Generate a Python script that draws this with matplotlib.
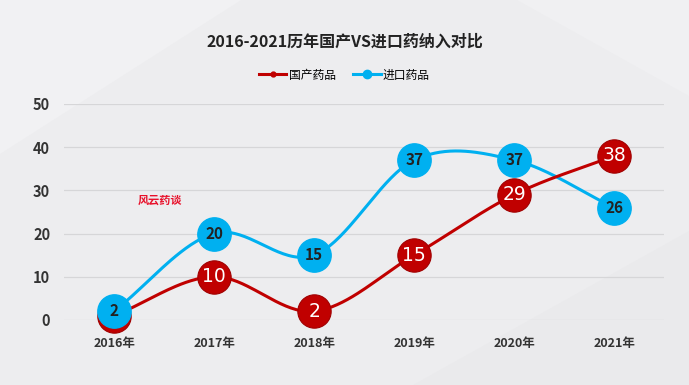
import matplotlib
matplotlib.use("Agg")
from matplotlib import pyplot as plt
from matplotlib.lines import Line2D
from matplotlib.patches import Polygon
import numpy as np

years = ["2016年", "2017年", "2018年", "2019年", "2020年", "2021年"]
domestic = [1, 10, 2, 15, 29, 38]
imported = [2, 20, 15, 37, 37, 26]

RED = "#c00000"
BLUE = "#00b0f0"

plt.rcParams['font.family'] = ['Noto Sans CJK SC', 'DejaVu Sans']


def smooth(xs, ys, n=40):
    # catmull-rom curve through the points, like excel's smoothed line
    px = np.array(xs, float)
    py = np.array(ys, float)
    px = np.concatenate([[2 * px[0] - px[1]], px, [2 * px[-1] - px[-2]]])
    py = np.concatenate([[2 * py[0] - py[1]], py, [2 * py[-1] - py[-2]]])
    outx, outy = [], []
    t = np.linspace(0, 1, n)
    for i in range(1, len(px) - 2):
        for arr, out in ((px, outx), (py, outy)):
            p0, p1, p2, p3 = arr[i - 1], arr[i], arr[i + 1], arr[i + 2]
            out.extend(0.5 * (2 * p1 + (-p0 + p2) * t
                              + (2 * p0 - 5 * p1 + 4 * p2 - p3) * t ** 2
                              + (-p0 + 3 * p1 - 3 * p2 + p3) * t ** 3))
    return outx, outy


fig = plt.figure(figsize=(6.89, 3.85), dpi=100, facecolor="#ededef")

# faint background shapes on their own axes, behind everything
bg = fig.add_axes([0, 0, 1, 1], zorder=-10)
bg.set_xlim(0, 1)
bg.set_ylim(0, 1)
bg.axis("off")
bg.add_patch(Polygon([[0, 1], [0.35, 1], [0.0, 0.6]], closed=True, color="#f1f1f3", lw=0))
bg.add_patch(Polygon([[0.6, 0], [1, 0], [1, 0.4]], closed=True, color="#eaeaec", lw=0))
bg.add_patch(Polygon([[0.75, 1], [1, 1], [1, 0.75]], closed=True, color="#f0f0f2", lw=0))

ax = fig.add_axes([0.093, 0.169, 0.871, 0.561])
ax.set_facecolor("none")

x = np.arange(len(years))
bx, by = smooth(x, imported)
rx, ry = smooth(x, domestic)
ax.plot(bx, by, color=BLUE, lw=2.2, zorder=3, clip_on=False)
ax.plot(rx, ry, color=RED, lw=2.2, zorder=4, clip_on=False)
ax.plot(x, domestic, 'o', color=RED, ms=24, mec="#a00000", mew=0.8, zorder=5, clip_on=False)
ax.plot(x, imported, 'o', color=BLUE, ms=24, mec=BLUE, zorder=6, clip_on=False)

for i in range(len(years)):
    ax.text(x[i], domestic[i], str(domestic[i]), ha="center", va="center",
            color="white", fontsize=13.5, family=['DejaVu Sans'], zorder=5.5)
    ax.text(x[i], imported[i], str(imported[i]), ha="center", va="center",
            color="#222222", fontsize=11, fontweight="bold", zorder=6.5)

ax.set_xlim(-0.5, 5.5)
ax.set_ylim(0, 50)
ax.set_yticks(range(0, 51, 10))
ax.set_xticks(x)
ax.set_xticklabels(years)
ax.grid(axis="y", color="#d6d6d8", lw=0.9)
ax.set_axisbelow(True)
for s in ax.spines.values():
    s.set_visible(False)
ax.tick_params(length=0)
ax.tick_params(axis="x", pad=12, labelsize=9, labelcolor="#333333")
ax.tick_params(axis="y", pad=10, labelsize=10.5, labelcolor="#333333")
for lab in ax.get_xticklabels() + ax.get_yticklabels():
    lab.set_fontweight("bold")

fig.text(0.5, 0.891, "2016-2021历年国产VS进口药纳入对比", ha="center", va="center",
         fontsize=11.5, fontweight="bold", color="#222222")
fig.text(0.232, 0.48, "风云药谈", ha="center", va="center",
         fontsize=8, fontweight="bold", color="#e8102a")

handles = [Line2D([], [], color=RED, lw=2.2, marker='o', ms=3.5),
           Line2D([], [], color=BLUE, lw=2.2, marker='o', ms=6)]
fig.legend(handles, ["国产药品", "进口药品"], loc="center", bbox_to_anchor=(0.5, 0.805),
           ncol=2, frameon=False, fontsize=8.5, handlelength=2.3, handletextpad=0.2,
           columnspacing=1.5)

fig.savefig("out.png", dpi=100, facecolor=fig.get_facecolor())
